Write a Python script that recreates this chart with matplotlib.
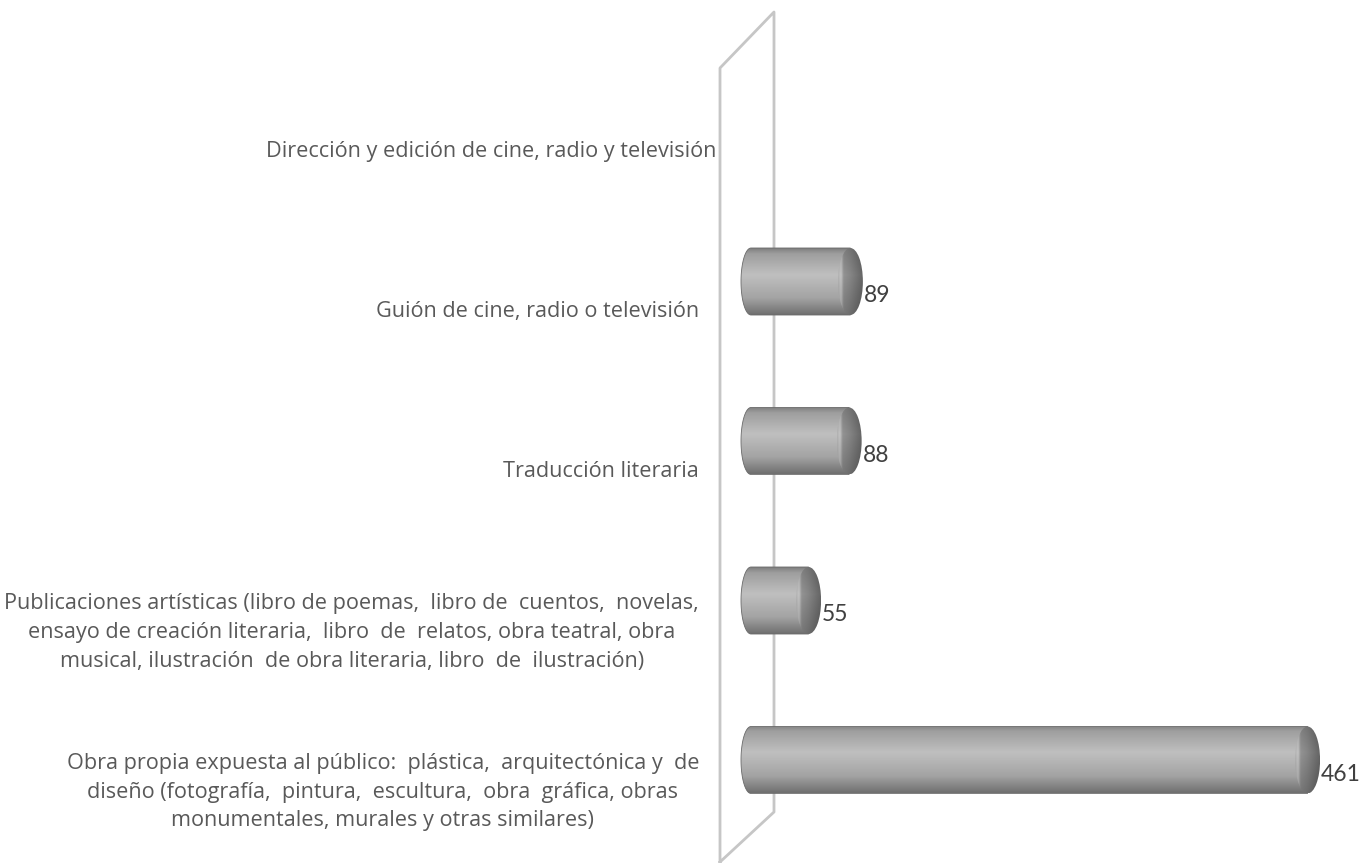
import numpy as np
import matplotlib
matplotlib.use("Agg")
import matplotlib.pyplot as plt
from matplotlib.patches import Ellipse, PathPatch
from matplotlib.path import Path
from matplotlib.lines import Line2D

plt.rcParams['font.family'] = ['Open Sans', 'DejaVu Sans']

# datos (de arriba hacia abajo)
categorias = [
    "Dirección y edición de cine, radio y televisión",
    "Guión de cine, radio o televisión",
    "Traducción literaria",
    "Publicaciones artísticas (libro de poemas,  libro de  cuentos,  novelas,\n"
    "ensayo de creación literaria,  libro  de  relatos, obra teatral, obra\n"
    "musical, ilustración  de obra literaria, libro  de  ilustración)",
    "Obra propia expuesta al público:  plástica,  arquitectónica y  de\n"
    "diseño (fotografía,  pintura,  escultura,  obra  gráfica, obras\n"
    "monumentales, murales y otras similares)",
]
valores = [0, 89, 88, 55, 461]

W, H = 1361, 863
fig = plt.figure(figsize=(W / 100, H / 100), dpi=100)
ax = fig.add_axes([0, 0, 1, 1])
ax.set_axis_off()

# escala: 0 -> 741 px, 1.229 px por unidad; 159.5 px entre categorias
x0_px, px_unit = 741, 1.229
y0_px, px_cat = 760, 159.5
xlim = (-x0_px / px_unit, (W - x0_px) / px_unit)
ylim = (-(H - y0_px) / px_cat, y0_px / px_cat)

n = len(categorias)
ypos = np.arange(n)[::-1]  # la primera categoria arriba

bar_h = 67 / px_cat
rx_left = 10 / px_unit
rx_cap = 12.5 / px_unit

# gradientes
t = np.linspace(0, 1, 64)
body_grad = np.interp(t, [0, 0.08, 0.4, 0.75, 1], [0.50, 0.62, 0.75, 0.64, 0.44])
body_img = np.repeat(body_grad[:, None], 4, axis=1)

# pared (lineas grises de la vista 3D)
wall = [(720, 862), (720, 68), (774, 12), (774, 812), (720, 862)]
wx = [p[0] / W for p in wall]
wy = [1 - p[1] / H for p in wall]
ax.add_line(Line2D(wx, wy, transform=ax.transAxes, color='#c6c6c6', lw=2.0, zorder=1))

for y, v, cat in zip(ypos, valores, categorias):
    # etiqueta de categoria (desplazada por la perspectiva)
    lab_px = 716 if '\n' not in cat and len(cat) > 40 else 699
    dy = 32 if '\n' in cat else 30
    ax.text((lab_px - x0_px) / px_unit, y - dy / px_cat, cat, ha='right', va='center',
            multialignment='center', fontsize=15.6, color='#595959', linespacing=1.48,
            zorder=3)
    if v <= 0:
        continue
    top, bot = y + bar_h / 2, y - bar_h / 2
    ang = np.linspace(np.pi / 2, 3 * np.pi / 2, 40)
    verts = [(rx_left + rx_left * np.cos(a), y + bar_h / 2 * np.sin(a)) for a in ang]
    verts += [(v, bot), (v, top), verts[0]]
    codes = [Path.MOVETO] + [Path.LINETO] * (len(verts) - 2) + [Path.CLOSEPOLY]
    body = PathPatch(Path(verts, codes), facecolor='none', edgecolor='none')
    ax.add_patch(body)
    im = ax.imshow(body_img, cmap='gray', vmin=0, vmax=1, aspect='auto',
                   extent=(0, v, bot, top), origin='upper', interpolation='bicubic', zorder=2)
    im.set_clip_path(body)
    ax.add_patch(PathPatch(Path(verts, codes), facecolor='none', edgecolor='#6a6a6a',
                           lw=0.6, zorder=2.1))

    # tapa del cilindro
    cap = Ellipse((v, y), 2 * rx_cap, bar_h, facecolor='none', edgecolor='none')
    ax.add_patch(cap)
    hx = np.interp(np.linspace(0, 1, 64), [0, 0.12, 0.22, 0.5, 1], [0.66, 0.74, 0.55, 0.5, 0.38])
    vy = np.interp(t, [0, 0.4, 1], [0.9, 1.05, 0.85])
    cap_img = np.clip(vy[:, None] * hx[None, :], 0, 1)
    im2 = ax.imshow(cap_img, cmap='gray', vmin=0, vmax=1, aspect='auto',
                    extent=(v - rx_cap, v + rx_cap, bot, top), origin='upper',
                    interpolation='bicubic', zorder=2.2)
    im2.set_clip_path(cap)

    ax.text(v + rx_cap + 1 / px_unit, y - 14 / px_cat, f"{v}", ha='left', va='center',
            fontsize=16.5, color='#404040', family=['Lato', 'DejaVu Sans'], zorder=3)

ax.set_xlim(*xlim)
ax.set_ylim(*ylim)

fig.savefig("out.png", dpi=100)
